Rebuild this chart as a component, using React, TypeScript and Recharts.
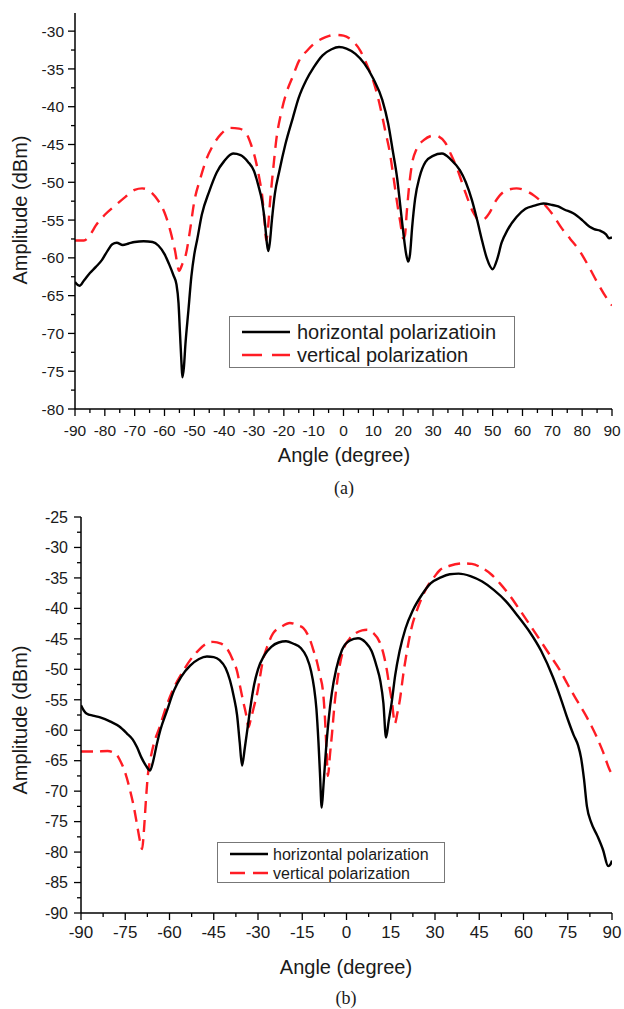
import React from 'react';
import { LineChart, Line, XAxis, YAxis } from 'recharts';

const FONT = "'Liberation Sans', Arial, Helvetica, sans-serif";
const SERIF = "'Liberation Serif', 'Times New Roman', serif";
const RED = '#ff1c24';

// ---------- (a) ----------
const topAngleTicks = [-90, -80, -70, -60, -50, -40, -30, -20, -10, 0, 10, 20, 30, 40, 50, 60, 70, 80, 90];
const topAmpTicks = [-80, -75, -70, -65, -60, -55, -50, -45, -40, -35, -30];
const topLegend = ['horizontal polarizatioin', 'vertical polarization'];

const topHAngle = [-90, -88.5, -87, -85, -83, -81, -79, -77.5, -76, -74, -72, -70, -67, -64, -62, -60, -58.5, -57, -56, -55.3, -54.8, -54.3, -54, -53.5, -53, -52, -51, -50, -49, -47.5, -45, -42.5, -40, -37, -34.5, -32, -30, -28.5, -27.3, -26.3, -25.7, -25.2, -24.7, -24, -23, -21.5, -19.5, -17, -15, -12.5, -10, -7, -4, -1.5, 1, 4, 7, 10, 13, 15, 16.5, 18, 19, 20, 21, 21.7, 22.3, 23, 24, 25.5, 27.5, 30, 33, 36, 39, 41, 43, 44.8, 46.5, 48, 50, 51.5, 53, 55, 58, 61, 64, 67, 70, 72, 74, 77, 80, 82.5, 84, 86, 88, 89, 90];
const topHAmp = [-63.2, -63.7, -63, -62, -61.2, -60.3, -59, -58.2, -58.0, -58.3, -58.1, -57.9, -57.8, -57.9, -58.4, -59.5, -60.8, -62.3, -63.5, -66, -70, -74, -75.8, -74.5, -71.5, -67, -62.5, -59.5, -57.5, -54.3, -51.2, -48.7, -47.2, -46.2, -46.4, -47.3, -48.5, -50.5, -52.5, -55.5, -58, -59.1, -58, -55, -51.5, -48.5, -45, -41.5, -38.8, -36.5, -34.8, -33.2, -32.4, -32.1, -32.3, -33, -34.3, -36.3, -39.1, -42.3, -45.8, -49.5, -53, -56.5, -59.5, -60.5, -59.5, -56, -52.2, -49.3, -47.3, -46.5, -46.2, -47, -48.4, -50, -52.3, -55, -57.8, -60, -61.5, -60.2, -58, -56.3, -54.6, -53.5, -53.1, -52.8, -53, -53.2, -53.6, -54.1, -55, -55.9, -56.2, -56.4, -56.9, -57.4, -57.3];

const topVAngle = [-90, -87, -85, -83, -80, -76, -73, -70, -67.5, -64.5, -62, -60, -58, -56.5, -55.1, -54, -52.8, -51.5, -50, -48, -46, -44, -41, -38, -35, -32.5, -31, -29.5, -28.2, -27.2, -26.5, -25.9, -25.3, -24.6, -23.5, -22.5, -21, -19, -17, -15, -12, -9, -6, -3, 0, 3, 5.5, 8, 10, 12, 14, 15.5, 17, 18, 19, 20, 20.6, 21.2, 22, 23, 24.5, 27, 30.5, 34, 36, 38, 41, 43.5, 45.5, 47, 49, 51, 54, 58, 61, 64, 67, 70, 73, 76, 79, 82, 85, 88, 90];
const topVAmp = [-57.7, -57.7, -57, -55.7, -54.3, -52.9, -51.9, -51, -50.8, -51.3, -52.5, -54, -56.5, -59, -61.7, -60.8, -59.5, -56.5, -52.5, -49.5, -47, -45.3, -43.6, -42.8, -42.9, -43.6, -45, -47, -49.5, -52, -55, -57.7, -56, -52.5, -48, -44.3, -41, -38, -36, -34, -32.5, -31.4, -30.8, -30.5, -30.6, -31.3, -32.5, -34.6, -36.6, -39.5, -43.2, -46, -50, -52.8, -55.2, -57.4, -57, -54, -50.5, -47.5, -45.6, -44.4, -43.8, -44.7, -46.3, -48.1, -51.5, -54, -55, -54.9, -54, -52.5, -51.2, -50.8, -51.1, -51.8, -52.8, -54.2, -56, -57.5, -59, -61, -63.2, -65.2, -66.3];

// ---------- (b) ----------
const botAngleTicks = [-90, -75, -60, -45, -30, -15, 0, 15, 30, 45, 60, 75, 90];
const botAmpTicks = [-90, -85, -80, -75, -70, -65, -60, -55, -50, -45, -40, -35, -30, -25];
const botLegend = ['horizontal polarization', 'vertical polarization'];

const botHAngle = [-90, -89, -88, -86, -83.5, -80, -77, -74.5, -72.5, -71, -69.5, -68, -66.6, -65.5, -64.3, -63, -61, -58.5, -56, -53, -50, -47.3, -45, -43, -41, -39.5, -38.2, -37.1, -36.2, -35.4, -34.5, -33.5, -32.5, -31.3, -30, -28, -25.5, -23, -20.5, -18, -15.5, -13.5, -12, -11, -10.2, -9.5, -9, -8.4, -7.8, -7, -6, -5, -3.5, -1.5, 1, 3.9, 6.5, 8.5, 10.2, 11.5, 12.5, 13.4, 14.3, 15.3, 16.5, 18, 20, 22.5, 25.5, 28.5, 32, 35, 38, 42, 46, 50, 54, 58, 62, 66, 70, 72.5, 75, 77, 78.5, 79.5, 80.5, 81.5, 83, 85, 87, 88.7, 89.5, 90];
const botHAmp = [-55.9, -56.8, -57.3, -57.6, -57.9, -58.6, -59.4, -60.5, -61.5, -62.8, -64.5, -65.8, -66.6, -65, -62.3, -59.8, -57, -53.5, -51.2, -49.4, -48.3, -47.9, -48, -48.5, -49.8, -51.8, -54.5, -57.5, -62, -65.8, -63, -59.5, -56, -52.5, -50, -47.8, -46.3, -45.6, -45.4, -45.8, -46.5, -48, -50.3, -53, -56.5, -62, -67, -72.7, -69, -63.5, -58, -54, -50, -46.8, -45.3, -44.9, -45.6, -47, -49.5, -52, -55.5, -61.2, -58.5, -55.5, -51, -47, -43.3, -40.3, -37.8, -35.9, -34.9, -34.4, -34.3, -34.7, -35.6, -37, -38.8, -41.2, -43.8, -47, -51.3, -54.6, -58.2, -60.8, -62.5, -64.5, -68, -72.5, -75.2, -77.3, -79.7, -82.3, -82, -81.4];

const botVAngle = [-90, -85, -81, -78, -76.5, -75, -73.5, -72, -71, -70, -69.3, -68.6, -68, -67.3, -66.3, -65.3, -63.5, -61, -58.5, -56, -53, -50, -47.5, -45.3, -42.5, -40.5, -38.5, -37, -36, -35, -34, -33.2, -32.5, -31.3, -30.3, -28.3, -26.5, -24.9, -22, -19.2, -16.5, -14.7, -12.5, -11, -10, -9, -8, -7.3, -6.8, -6.3, -5.6, -4.9, -4, -3, -1.2, 1, 3, 5.3, 7, 9, 11.4, 12.8, 13.7, 14.6, 15.4, 16.4, 17.2, 18.1, 19.2, 20.5, 22, 23.9, 25.5, 27.3, 29.5, 31.7, 35, 39.5, 42.5, 45.3, 49, 52, 55.5, 58.8, 62, 65.6, 69, 72.4, 75, 78.1, 81.5, 84.9, 87, 89.3, 90];
const botVAmp = [-63.5, -63.5, -63.4, -64, -65.2, -67, -69.6, -72.8, -75.5, -78.2, -79.5, -76, -71.5, -67.2, -64.3, -62.2, -59.7, -56, -53, -50.8, -48.5, -46.8, -45.8, -45.5, -45.8, -46.6, -48.5, -50.5, -53, -55.3, -57.5, -59.5, -58.3, -56, -54, -48.5, -45.8, -44.1, -43, -42.4, -42.8, -43.2, -45, -47.2, -48.8, -51, -53.5, -58, -63, -67.5, -64, -60.5, -55.5, -51.5, -47, -45, -44.1, -43.6, -43.5, -44, -45.7, -48, -50.2, -53, -55.3, -58.9, -57.3, -55, -51, -47, -43.3, -40.3, -38.3, -36.5, -35, -33.7, -33, -32.6, -32.7, -33.2, -34.4, -35.9, -38, -40.3, -42.6, -45.2, -47.7, -50.2, -52.5, -55.1, -57.9, -61.2, -63.6, -66.6, -67.2];

const zip = (a: number[], b: number[]) => a.map((x, i) => ({ x, y: b[i] }));
const withMinor = (majors: number[]) => {
  const out: number[] = [];
  majors.forEach((m, i) => {
    out.push(m);
    if (i < majors.length - 1) out.push((m + majors[i + 1]) / 2);
  });
  return out;
};

function makeTick(orient: 'left' | 'bottom', majors: number[], fontSize: number, labelGap: number) {
  return (props: any) => {
    const { x, y, payload } = props;
    const v = payload.value;
    const isMajor = majors.some((m) => Math.abs(m - v) < 1e-6);
    const len = isMajor ? 7 : 4;
    if (orient === 'left') {
      return (
        <g>
          <line x1={x} y1={y} x2={x - len} y2={y} stroke="#000" strokeWidth={1.3} />
          {isMajor && (
            <text x={x - labelGap} y={y} dy="0.36em" textAnchor="end" fontSize={fontSize} fill="#1a1a1a" fontFamily={FONT}>
              {v}
            </text>
          )}
        </g>
      );
    }
    return (
      <g>
        <line x1={x} y1={y} x2={x} y2={y + len} stroke="#000" strokeWidth={1.3} />
        {isMajor && (
          <text x={x} y={y + labelGap} textAnchor="middle" fontSize={fontSize} fill="#1a1a1a" fontFamily={FONT}>
            {v}
          </text>
        )}
      </g>
    );
  };
}

type PanelProps = {
  top: number;
  height: number;
  marginTop: number;
  yWidth: number;
  xHeight: number;
  xDomain: [number, number];
  yDomain: [number, number];
  xTicks: number[];
  yTicks: number[];
  fontSize: number;
  xFontSize: number;
  yLabelGap: number;
  xLabelGap: number;
  h: { x: number; y: number }[];
  v: { x: number; y: number }[];
  dash: string;
};

function Panel(p: PanelProps) {
  return (
    <div style={{ position: 'absolute', left: 0, top: p.top }}>
      <LineChart width={624} height={p.height} margin={{ top: p.marginTop, right: 12, left: 0, bottom: 0 }}>
        <XAxis
          xAxisId="main"
          dataKey="x"
          type="number"
          domain={p.xDomain}
          ticks={withMinor(p.xTicks)}
          interval={0}
          allowDataOverflow
          height={p.xHeight}
          tickSize={0}
          tickMargin={0}
          tickLine={false}
          axisLine={{ stroke: '#000', strokeWidth: 1.5 }}
          tick={makeTick('bottom', p.xTicks, p.xFontSize, p.xLabelGap)}
        />
        <XAxis xAxisId="frameTop" orientation="top" type="number" domain={p.xDomain} height={0} tick={false} tickLine={false} axisLine={{ stroke: '#666', strokeWidth: 1.5 }} />
        <YAxis
          yAxisId="main"
          type="number"
          domain={p.yDomain}
          ticks={withMinor(p.yTicks)}
          interval={0}
          allowDataOverflow
          width={p.yWidth}
          tickSize={0}
          tickMargin={0}
          tickLine={false}
          axisLine={{ stroke: '#000', strokeWidth: 1.5 }}
          tick={makeTick('left', p.yTicks, p.fontSize, p.yLabelGap)}
        />
        <YAxis yAxisId="frameRight" orientation="right" type="number" domain={p.yDomain} width={0} tick={false} tickLine={false} axisLine={{ stroke: '#666', strokeWidth: 1.5 }} />
        <Line xAxisId="main" yAxisId="main" data={p.v} dataKey="y" type="monotone" stroke={RED} strokeWidth={2.4} strokeDasharray={p.dash} dot={false} isAnimationActive={false} />
        <Line xAxisId="main" yAxisId="main" data={p.h} dataKey="y" type="monotone" stroke="#000" strokeWidth={2.4} dot={false} isAnimationActive={false} />
      </LineChart>
    </div>
  );
}

function LegendBox(props: { left: number; top: number; width: number; height: number; rows: number[]; lineX: [number, number]; textX: number; fontSize: number; labels: string[]; dash: string }) {
  const { left, top, width, height, rows, lineX, textX, fontSize, labels, dash } = props;
  return (
    <svg style={{ position: 'absolute', left, top }} width={width} height={height}>
      <rect x={0.5} y={0.5} width={width - 1} height={height - 1} fill="#fff" stroke="#777" strokeWidth={1} />
      <line x1={lineX[0]} x2={lineX[1]} y1={rows[0]} y2={rows[0]} stroke="#000" strokeWidth={2.4} />
      <line x1={lineX[0]} x2={lineX[1]} y1={rows[1]} y2={rows[1]} stroke={RED} strokeWidth={2.4} strokeDasharray={dash} />
      <text x={textX} y={rows[0]} dy="0.35em" fontSize={fontSize} fontFamily={FONT} fill="#1a1a1a">{labels[0]}</text>
      <text x={textX} y={rows[1]} dy="0.35em" fontSize={fontSize} fontFamily={FONT} fill="#1a1a1a">{labels[1]}</text>
    </svg>
  );
}

const titleStyle = (x: number, y: number, size: number, rotate = false, family = FONT): React.CSSProperties => ({
  position: 'absolute',
  left: x,
  top: y,
  transform: `translate(-50%, -50%)${rotate ? ' rotate(-90deg)' : ''}`,
  whiteSpace: 'nowrap',
  fontFamily: family,
  fontSize: size,
  color: '#1a1a1a',
  lineHeight: 1,
});

export default function App() {
  return (
    <div style={{ position: 'absolute', left: 0, top: 0, width: 624, height: 1009, background: '#fff', overflow: 'hidden' }}>
      <Panel
        top={0}
        height={450}
        marginTop={13}
        yWidth={75}
        xHeight={41}
        xDomain={[-90, 90]}
        yDomain={[-80, -27.6]}
        xTicks={topAngleTicks}
        yTicks={topAmpTicks}
        fontSize={15.5}
        xFontSize={15.5}
        yLabelGap={11}
        xLabelGap={27}
        h={zip(topHAngle, topHAmp)}
        v={zip(topVAngle, topVAmp)}
        dash="12 8"
      />
      <div style={titleStyle(20, 210, 20, true)}>Amplitude (dBm)</div>
      <div style={titleStyle(344, 455, 20)}>Angle (degree)</div>
      <div style={titleStyle(344, 488, 18, false, SERIF)}>(a)</div>
      <LegendBox left={229} top={316} width={286} height={52} rows={[16, 39]} lineX={[13, 61]} textX={68} fontSize={20} labels={topLegend} dash="20 10" />

      <Panel
        top={500}
        height={450}
        marginTop={17}
        yWidth={81}
        xHeight={37}
        xDomain={[-90, 90]}
        yDomain={[-90, -25]}
        xTicks={botAngleTicks}
        yTicks={botAmpTicks}
        fontSize={16}
        xFontSize={17}
        yLabelGap={13}
        xLabelGap={25}
        h={zip(botHAngle, botHAmp)}
        v={zip(botVAngle, botVAmp)}
        dash="12 7"
      />
      <div style={titleStyle(20, 720, 20, true)}>Amplitude (dBm)</div>
      <div style={titleStyle(346, 967, 20)}>Angle (degree)</div>
      <div style={titleStyle(346, 998, 18, false, SERIF)}>(b)</div>
      <LegendBox left={217} top={842} width={228} height={41} rows={[12, 31]} lineX={[13, 51]} textX={56} fontSize={16} labels={botLegend} dash="15 8" />
    </div>
  );
}
